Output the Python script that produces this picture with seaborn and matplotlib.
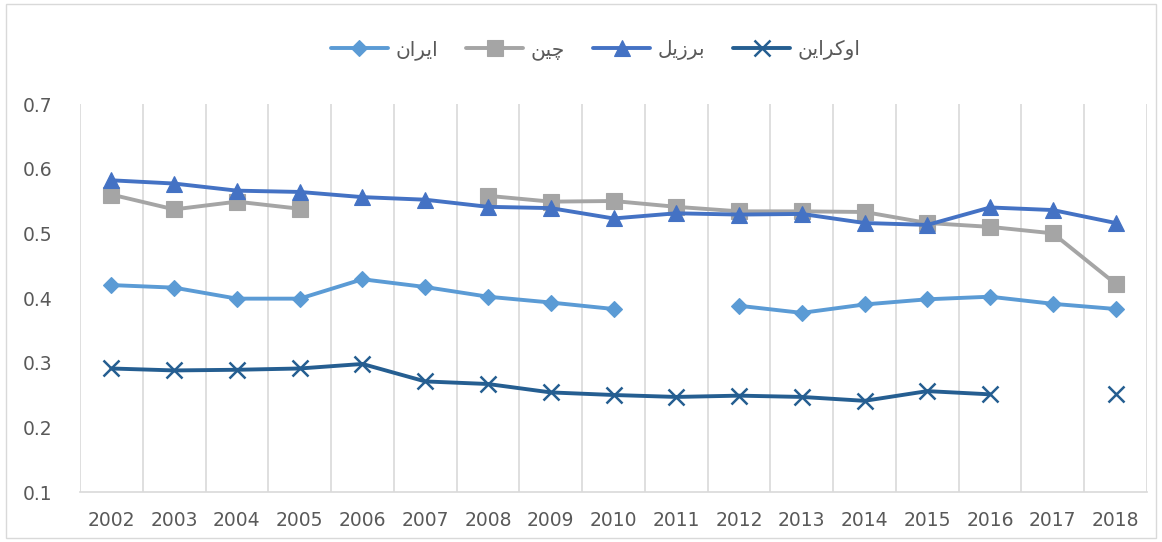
import numpy as np
import pandas as pd
import matplotlib.pyplot as plt
import seaborn as sns
from matplotlib.lines import Line2D
from matplotlib.patches import Rectangle

# Data (NaN = no value that year)
years = ['2002', '2003', '2004', '2005', '2006', '2007', '2008', '2009', '2010',
         '2011', '2012', '2013', '2014', '2015', '2016', '2017', '2018']
names = ['ایران', 'چین', 'برزیل', 'اوکراین']
iran = [0.420, 0.416, 0.399, 0.399, 0.429, 0.417, 0.402, 0.393, 0.383,
        np.nan, 0.388, 0.377, 0.390, 0.398, 0.402, 0.391, 0.383]
china = [0.560, 0.537, 0.549, 0.538, np.nan, np.nan, 0.558, 0.549, 0.550,
         0.541, 0.534, 0.534, 0.533, 0.516, 0.510, 0.500, 0.422]
brazil = [0.582, 0.577, 0.566, 0.564, 0.556, 0.552, 0.541, 0.539, 0.523,
          0.531, 0.529, 0.530, 0.516, 0.513, 0.540, 0.536, 0.516]
ukraine = [0.291, 0.288, 0.289, 0.291, 0.298, 0.271, 0.267, 0.254, 0.250,
           0.247, 0.249, 0.247, 0.241, 0.256, 0.251, np.nan, 0.251]
y_ticks = [0.1, 0.2, 0.3, 0.4, 0.5, 0.6, 0.7]

colores = ['#5B9BD5', '#A5A5A5', '#4472C4', '#255E91']
marcadores = ['D', 's', '^', 'x']
tamanos = [8.5, 11, 12, 12]

# matplotlib has no Arabic shaping: pick presentation forms by hand and reverse
formas = {
    'ا': ('\uFE8D', '\uFE8E'), 'ر': ('\uFEAD', '\uFEAE'),
    'ز': ('\uFEAF', '\uFEB0'), 'و': ('\uFEED', '\uFEEE'),
    'ی': ('\uFBFC', '\uFBFD', '\uFBFE', '\uFBFF'),
    'ن': ('\uFEE5', '\uFEE6', '\uFEE7', '\uFEE8'),
    'ب': ('\uFE8F', '\uFE90', '\uFE91', '\uFE92'),
    'ل': ('\uFEDD', '\uFEDE', '\uFEDF', '\uFEE0'),
    'چ': ('\uFB7A', '\uFB7B', '\uFB7C', '\uFB7D'),
    'ک': ('\uFB8E', '\uFB8F', '\uFB90', '\uFB91'),
}

def dar_forma(texto):
    res = []
    for i, c in enumerate(texto):
        f = formas.get(c)
        if f is None:
            res.append(c)
            continue
        prev = i > 0 and len(formas.get(texto[i - 1], ())) == 4
        nxt = len(f) == 4 and i + 1 < len(texto) and texto[i + 1] in formas
        if prev and nxt:
            res.append(f[3])
        elif prev:
            res.append(f[1])
        elif nxt:
            res.append(f[2])
        else:
            res.append(f[0])
    return ''.join(reversed(res))

# long dataframe, one 'tramo' per unbroken run so gaps stay open
filas = []
for nombre, serie in zip(names, [iran, china, brazil, ukraine]):
    tramo = 0
    for i, v in enumerate(serie):
        if np.isnan(v):
            tramo += 1
            continue
        filas.append({'pais': nombre, 'pos': i, 'valor': v, 'tramo': tramo})
df = pd.DataFrame(filas)

sns.set_style('white')
plt.rcParams['font.family'] = ['DejaVu Sans']

fig = plt.figure(figsize=(11.62, 5.42), dpi=100)
ax = fig.add_axes([80 / 1162, 1 - 492 / 542, (1147 - 80) / 1162, (492 - 104) / 542])

for nombre, col, m, ms in zip(names, colores, marcadores, tamanos):
    sub = df[df['pais'] == nombre]
    sns.lineplot(data=sub, x='pos', y='valor', units='tramo', estimator=None,
                 color=col, marker=m, markersize=ms, markeredgecolor=col,
                 markeredgewidth=1.8 if m == 'x' else 0.8, linewidth=2.8,
                 legend=False, ax=ax)

ax.set_xlim(-0.5, len(years) - 0.5)
ax.set_ylim(0.1, 0.7)
ax.set_xticks(range(len(years)))
ax.set_xticklabels(years)
ax.set_xticks(np.arange(-0.5, len(years), 1.0), minor=True)
ax.set_yticks(y_ticks)
ax.set_yticklabels([f'{t:.1f}' for t in y_ticks])
ax.grid(which='minor', axis='x', color='#D9D9D9', linewidth=1.2)
ax.grid(which='major', axis='both', visible=False)
ax.tick_params(axis='both', which='both', length=0, colors='#595959')
ax.tick_params(axis='x', labelsize=13.5, pad=14)
ax.tick_params(axis='y', labelsize=13.5, pad=20)
ax.set_xlabel('')
ax.set_ylabel('')
for lado in ['top', 'left', 'right']:
    ax.spines[lado].set_visible(False)
ax.spines['bottom'].set_color('#D9D9D9')
ax.spines['bottom'].set_linewidth(1.2)

manejadores = [Line2D([], [], color=c, lw=2.8, marker=m, markersize=ms,
                      markeredgecolor=c, markeredgewidth=1.8 if m == 'x' else 0.8)
               for c, m, ms in zip(colores, marcadores, tamanos)]
fig.legend(manejadores, [dar_forma(n) for n in names], loc='center',
           bbox_to_anchor=(596 / 1162, 1 - 50 / 542), ncol=4, frameon=False,
           fontsize=14.5, handlelength=2.8, columnspacing=1.4, handletextpad=0.4,
           labelcolor='#595959')

# chart border like the Excel chart area
fig.patches.append(Rectangle((6 / 1162, 4 / 542), 1150 / 1162, 534 / 542,
                             transform=fig.transFigure, fill=False,
                             edgecolor='#D9D9D9', linewidth=1))

fig.savefig('out.png', dpi=100)
